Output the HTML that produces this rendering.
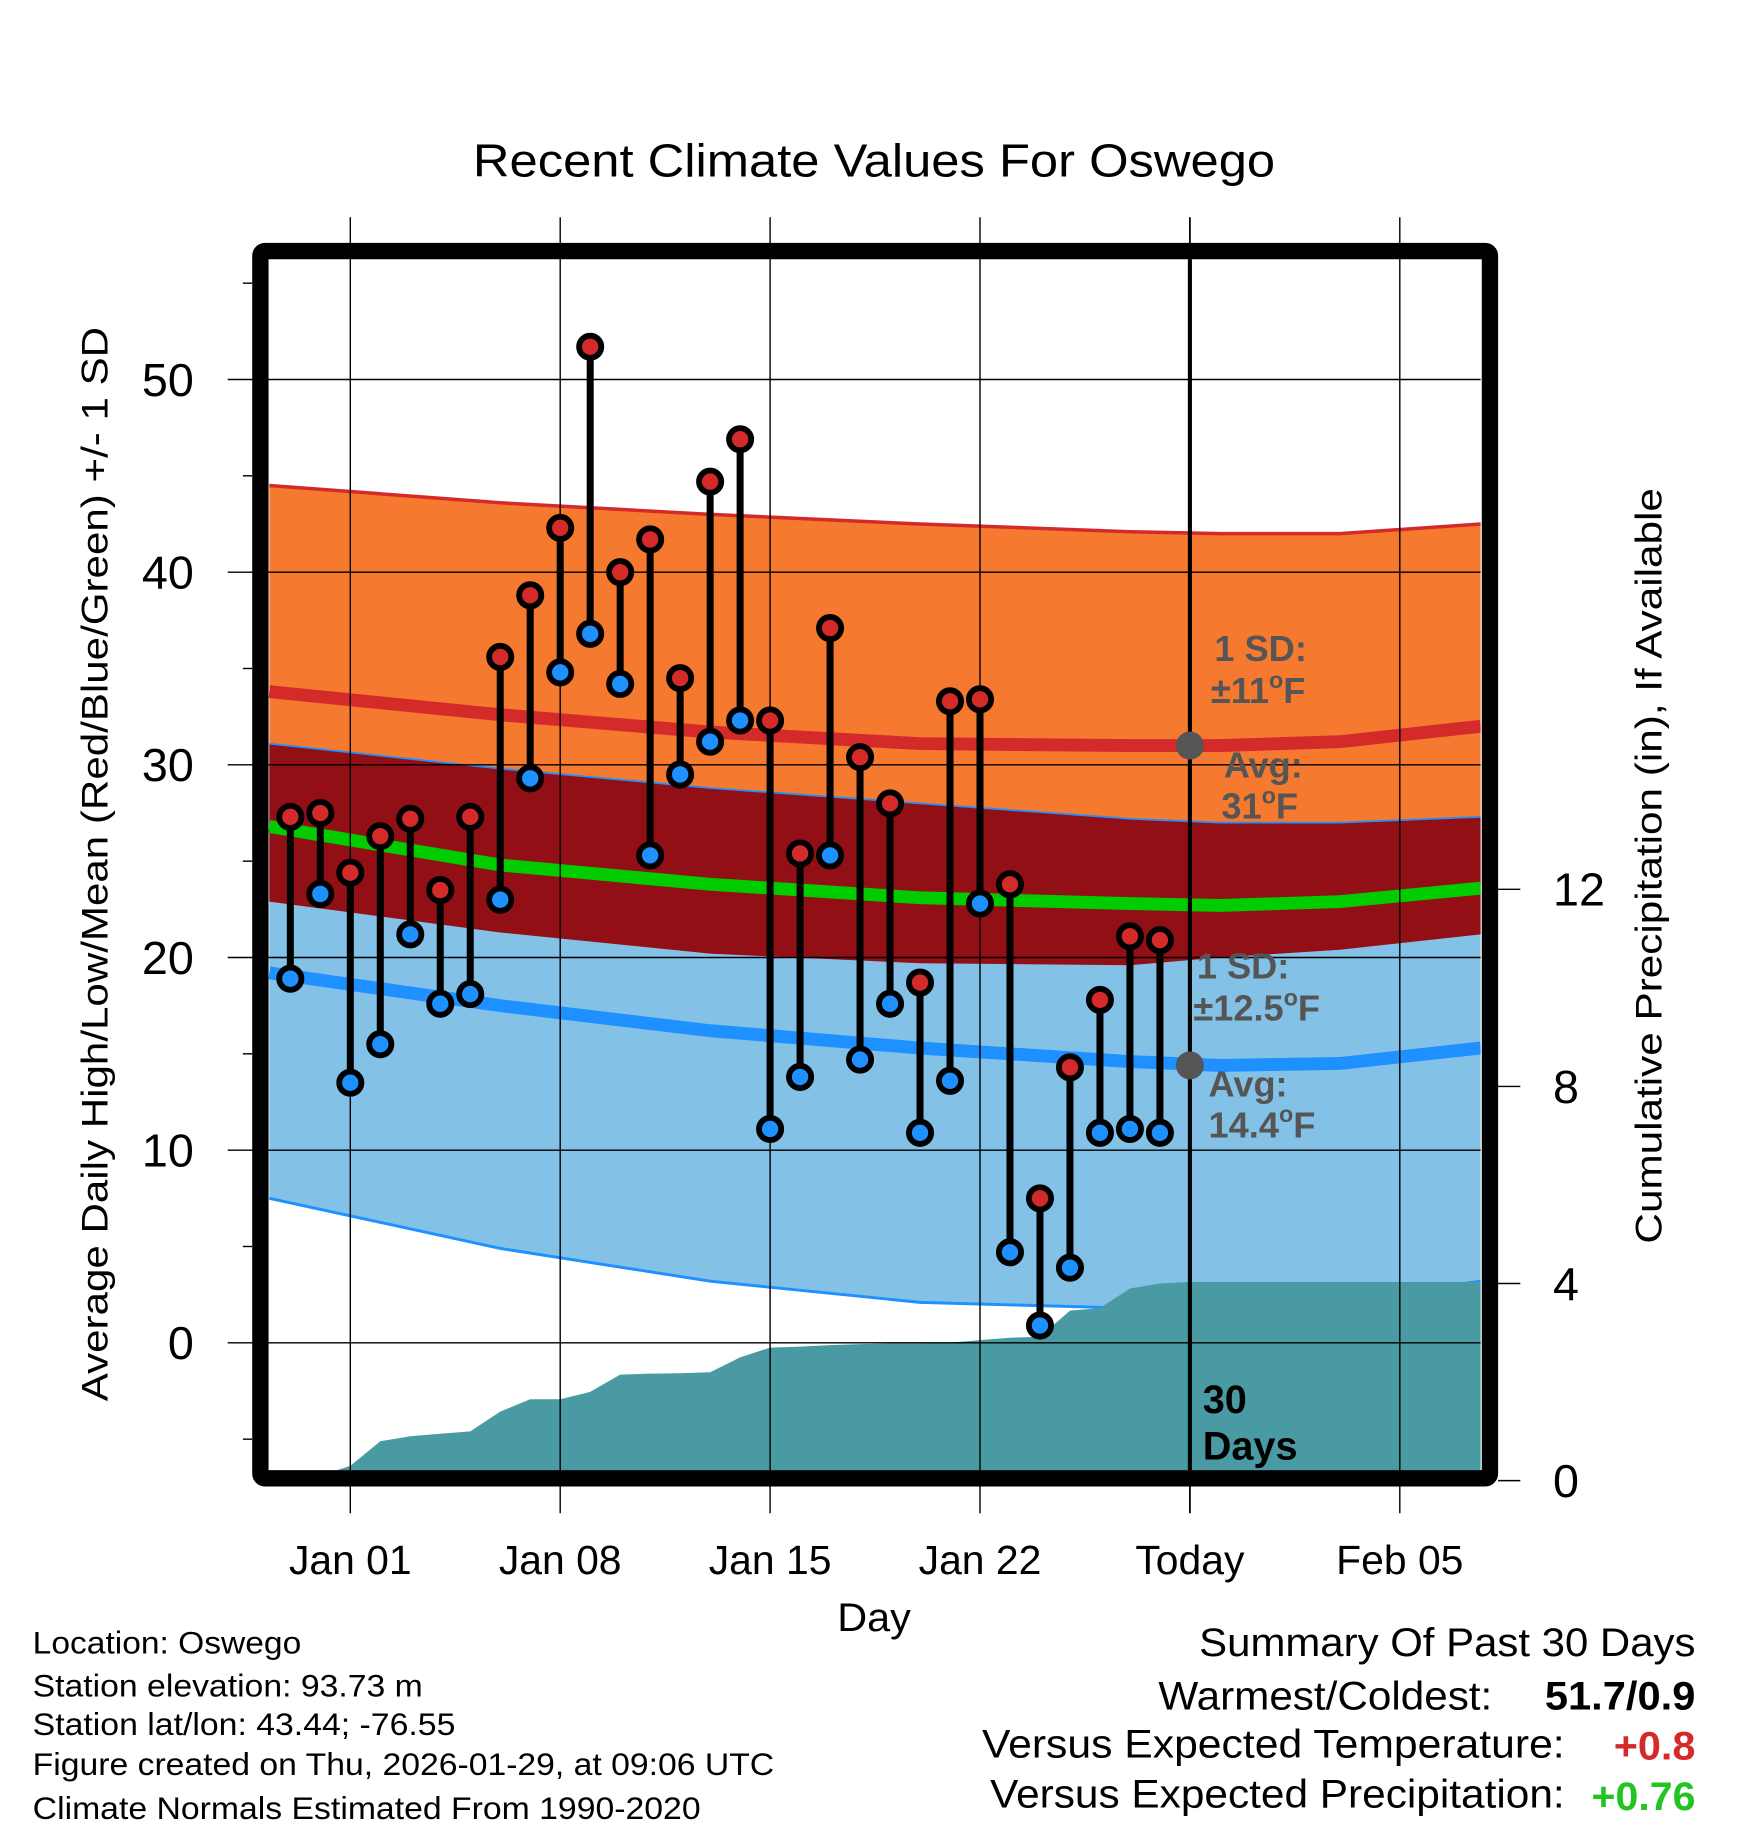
<!DOCTYPE html>
<html><head><meta charset="utf-8"><style>
html,body{margin:0;padding:0;background:#fff;}
svg{display:block;font-family:"Liberation Sans",sans-serif;}
</style></head><body>
<svg id="chart" width="1748" height="1828" viewBox="0 0 1497 1565.5" preserveAspectRatio="none">
<defs><clipPath id="plotclip"><rect x="230" y="222" width="1038" height="1037"/></clipPath></defs>
<text x="405" y="151" font-size="40" textLength="687" lengthAdjust="spacingAndGlyphs">Recent Climate Values For Oswego</text>
<g id="bands" clip-path="url(#plotclip)"></g>
<g id="grid"></g>
<g id="marks"></g>
<g id="axes"></g>
<text transform="translate(92,1200) rotate(-90)" font-size="32" textLength="920" lengthAdjust="spacingAndGlyphs">Average Daily High/Low/Mean (Red/Blue/Green) +/- 1 SD</text>
<text transform="translate(1423,1065) rotate(-90)" font-size="32" textLength="647" lengthAdjust="spacingAndGlyphs">Cumulative Precipitation (in), If Available</text>
<text x="717" y="1397" font-size="34" textLength="63" lengthAdjust="spacingAndGlyphs">Day</text>
<g font-weight="bold" font-size="31" fill="#555">
<text x="1040" y="566">1 SD:</text><text x="1037" y="602">±11<tspan font-size="20" dy="-13">o</tspan><tspan dy="13">F</tspan></text>
<text x="1048" y="666">Avg:</text><text x="1046" y="701">31<tspan font-size="20" dy="-13">o</tspan><tspan dy="13">F</tspan></text>
<text x="1025" y="838">1 SD:</text><text x="1022" y="874">±12.5<tspan font-size="20" dy="-13">o</tspan><tspan dy="13">F</tspan></text>
<text x="1035" y="939">Avg:</text><text x="1035" y="974">14.4<tspan font-size="20" dy="-13">o</tspan><tspan dy="13">F</tspan></text>
</g>
<text x="1030" y="1210" font-size="34" font-weight="bold">30</text>
<text x="1030" y="1250" font-size="34" font-weight="bold">Days</text>
<g font-size="27" lengthAdjust="spacingAndGlyphs">
<text x="28" y="1416" textLength="230" lengthAdjust="spacingAndGlyphs">Location: Oswego</text>
<text x="28" y="1453" textLength="334" lengthAdjust="spacingAndGlyphs">Station elevation: 93.73 m</text>
<text x="28" y="1486" textLength="362" lengthAdjust="spacingAndGlyphs">Station lat/lon: 43.44; -76.55</text>
<text x="28" y="1520" textLength="635" lengthAdjust="spacingAndGlyphs">Figure created on Thu, 2026-01-29, at 09:06 UTC</text>
<text x="28" y="1558" textLength="572" lengthAdjust="spacingAndGlyphs">Climate Normals Estimated From 1990-2020</text>
</g>
<g font-size="34">
<text x="1027" y="1418" textLength="425" lengthAdjust="spacingAndGlyphs">Summary Of Past 30 Days</text>
<text x="992" y="1464" textLength="286" lengthAdjust="spacingAndGlyphs">Warmest/Coldest:</text>
<text x="1323" y="1464" font-weight="bold" textLength="129" lengthAdjust="spacingAndGlyphs">51.7/0.9</text>
<text x="841" y="1505" textLength="499" lengthAdjust="spacingAndGlyphs">Versus Expected Temperature:</text>
<text x="1382" y="1507" font-weight="bold" fill="#d42a2a" textLength="70" lengthAdjust="spacingAndGlyphs">+0.8</text>
<text x="848" y="1548" textLength="492" lengthAdjust="spacingAndGlyphs">Versus Expected Precipitation:</text>
<text x="1363" y="1550" font-weight="bold" fill="#22c422" textLength="89" lengthAdjust="spacingAndGlyphs">+0.76</text>
</g>
</svg>
<script>
const normDays=[-2.7,5,12,19,26,29,33,37.7];
const hiAvg=[33.8,32.6,31.7,31.1,31.0,31.0,31.2,32.0];
const hiTop=[44.5,43.6,43.0,42.5,42.1,42.0,42.0,42.5];
const hiBot=[22.9,21.3,20.2,19.7,19.6,20.0,20.4,21.2];
const loAvg=[19.2,17.5,16.2,15.3,14.6,14.4,14.5,15.3];
const loTop=[31.1,29.8,28.8,28.0,27.2,27.0,27.0,27.3];
const loBot=[7.5,4.9,3.2,2.1,1.8,1.9,2.2,3.2];
const meanAvg=[26.8,24.8,23.8,23.1,22.8,22.7,22.9,23.6];
const obsDays=[-2,-1,0,1,2,3,4,5,6,7,8,9,10,11,12,13,14,15,16,17,18,19,20,21,22,23,24,25,26,27];
const highs=[27.3,27.5,24.4,26.3,27.2,23.5,27.3,35.6,38.8,42.3,51.7,40.0,41.7,34.5,44.7,46.9,32.3,25.4,37.1,30.4,28.0,18.7,33.3,33.4,23.8,7.5,14.3,17.8,21.1,20.9];
const lows=[18.9,23.3,13.5,15.5,21.2,17.6,18.1,23.0,29.3,34.8,36.8,34.2,25.3,29.5,31.2,32.3,11.1,13.8,25.3,14.7,17.6,10.9,13.6,22.8,4.7,0.9,3.9,10.9,11.1,10.9];
const precipDays=[-3,-2,-1,0,1,2,3,4,5,6,7,8,9,10,11,12,13,14,15,16,17,18,19,20,21,22,23,24,25,26,27,28,38];
const precip=[0,0,0.1,0.3,0.8,0.9,0.95,1.0,1.4,1.65,1.65,1.8,2.15,2.17,2.18,2.2,2.5,2.7,2.72,2.75,2.77,2.78,2.78,2.8,2.85,2.9,2.92,3.45,3.5,3.9,4.0,4.03,4.03];
const xTickDays=[0,7,14,21,28,35];
const xTickLabels=["Jan 01","Jan 08","Jan 15","Jan 22","Today","Feb 05"];
const yTicks=[0,10,20,30,40,50];
const y2Ticks=[0,4,8,12];

const X=d=>300+25.68*d, Y=v=>1150-16.5*v, Y2=p=>1268-42.2*p;
const NS="http://www.w3.org/2000/svg";
function mk(tag,parent,attrs){const e=document.createElementNS(NS,tag);for(const k in attrs)e.setAttribute(k,attrs[k]);parent.appendChild(e);return e;}
const bands=document.getElementById('bands'),grid=document.getElementById('grid'),marks=document.getElementById('marks'),axes=document.getElementById('axes');
const line=a=>normDays.map((d,i)=>X(d)+','+Y(a[i])).join(' ');
const band=(top,bot)=>line(top)+' '+normDays.map((d,i)=>X(d)+','+Y(bot[i])).reverse().join(' ');
let e;
e=mk('polygon',bands,{points:band(hiTop,hiBot),fill:'#f5792f'});

e=mk('polyline',bands,{points:line(hiTop),fill:'none',stroke:'#d42a2a','stroke-width':3});

e=mk('polygon',bands,{points:band(loTop,loBot),fill:'#84c1e7'});

e=mk('polygon',bands,{points:band(loTop,hiBot),fill:'#930f16'});

e=mk('polyline',bands,{points:line(loTop),fill:'none',stroke:'#1e90ff','stroke-width':1.5});

e=mk('polyline',bands,{points:line(loBot),fill:'none',stroke:'#1e90ff','stroke-width':2.5});

e=mk('polyline',bands,{points:line(hiAvg),fill:'none',stroke:'#d42a2a','stroke-width':11});

e=mk('polyline',bands,{points:line(loAvg),fill:'none',stroke:'#1e90ff','stroke-width':11});

e=mk('polyline',bands,{points:line(meanAvg),fill:'none',stroke:'#00cc00','stroke-width':11});

let pp=precipDays.map((d,i)=>X(d)+','+Y2(precip[i])).join(' ')+' '+X(38)+',1270 '+X(-3)+',1270';
e=mk('polygon',bands,{points:pp,fill:'#4a9aa3'});

yTicks.forEach(v=>{e=mk('line',grid,{x1:195,x2:1268,y1:Y(v),y2:Y(v),stroke:'#000','stroke-width':1.2});

e=mk('text',axes,{x:166,y:Y(v)+14,'font-size':40,'text-anchor':'end'});e.textContent=v;
});
for(let v=-5;v<=55;v+=5){if(v%10===0)continue;e=mk('line',grid,{x1:208,x2:216,y1:Y(v),y2:Y(v),stroke:'#000','stroke-width':1.2});
}
xTickDays.forEach((d,i)=>{const today=xTickLabels[i]==='Today';
e=mk('line',grid,{x1:X(d),x2:X(d),y1:186,y2:1296,stroke:'#000','stroke-width':today?1.5:1.2});

e=mk('text',axes,{x:X(d),y:1348,'font-size':35,'text-anchor':'middle'});e.textContent=xTickLabels[i];
});
e=mk('line',grid,{x1:X(28),x2:X(28),y1:222,y2:1259,stroke:'#000','stroke-width':3.5});

y2Ticks.forEach(p=>{e=mk('line',axes,{x1:1283,x2:1302,y1:Y2(p),y2:Y2(p),stroke:'#000','stroke-width':1.2});

e=mk('text',axes,{x:1330,y:Y2(p)+14,'font-size':40});e.textContent=p;
});
e=mk('rect',axes,{x:223,y:215,width:1053,height:1051,fill:'none',stroke:'#000','stroke-width':14,rx:4});

e=mk('circle',axes,{cx:X(28),cy:Y(31),r:12,fill:'#555'});

e=mk('circle',axes,{cx:X(28),cy:Y(14.4),r:12,fill:'#555'});

obsDays.forEach((d,i)=>{
e=mk('line',marks,{x1:X(d),x2:X(d),y1:Y(highs[i]),y2:Y(lows[i]),stroke:'#000','stroke-width':6});

e=mk('circle',marks,{cx:X(d),cy:Y(highs[i]),r:9.5,fill:'#d42a2a',stroke:'#000','stroke-width':5});

e=mk('circle',marks,{cx:X(d),cy:Y(lows[i]),r:9.5,fill:'#1e90ff',stroke:'#000','stroke-width':5});
});
</script>
</body></html>
